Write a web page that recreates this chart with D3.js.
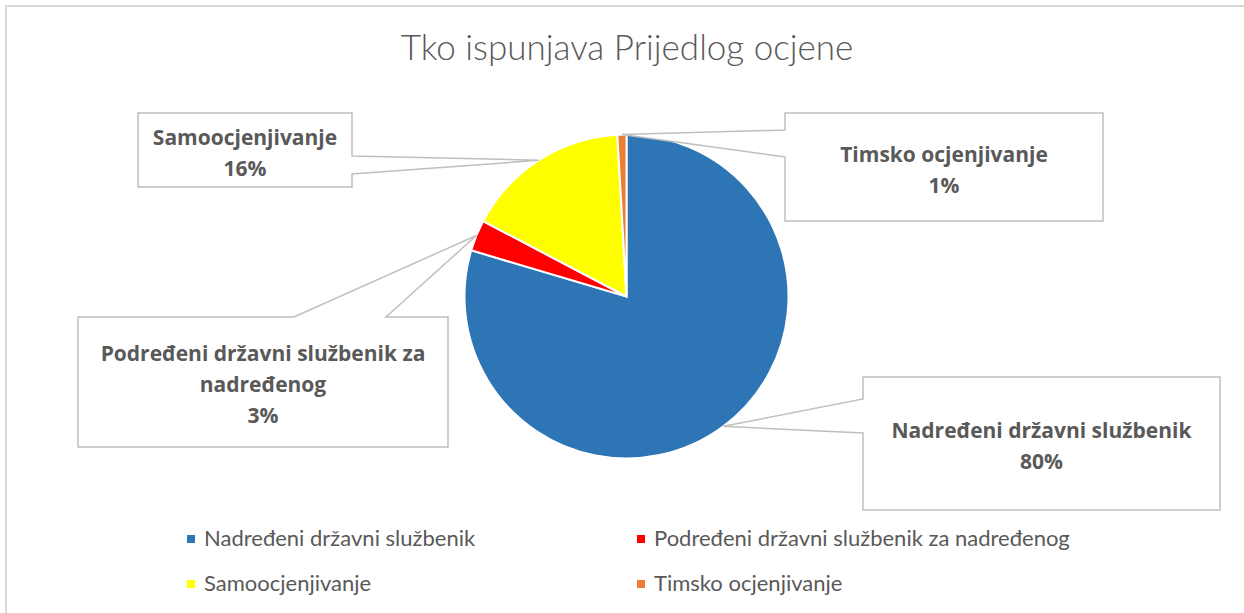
<!DOCTYPE html>
<html>
<head>
<meta charset="utf-8">
<script src="https://cdn.jsdelivr.net/npm/d3@7"></script>
<style>
  body { margin: 0; background: #fff; }
  text { font-family: Lato, "Open Sans", sans-serif; fill: #595959; }
</style>
</head>
<body>
<div id="chart"></div>
<script>
var width = 1244,
    height = 613;

// data
var categories = ["Nadređeni državni službenik", "Podređeni državni službenik za nadređenog", "Samoocjenjivanje", "Timsko ocjenjivanje"];
var shares = [79.6, 3.1, 16.4, 0.9];
var colors = ["#2E75B6", "#FF0000", "#FFFF00", "#ED7D31"];
var title = "Tko ispunjava Prijedlog ocjene";

// callout boxes (layout only), base = where the pointer leaves the box side
var callouts = [
    {x: 863, y: 377, w: 357, h: 133, side: "left",  base: [22, 56]},
    {x: 78,  y: 317, w: 370, h: 130, side: "top",   base: [216, 308]},
    {x: 138, y: 113, w: 214, h: 74,  side: "right", base: [43, 61]},
    {x: 785, y: 113, w: 318, h: 108, side: "left",  base: [17, 44]}
];

var cx = 626.5, cy = 296.5, r = 162;

var svg = d3.select("#chart").append("svg")
    .attr("width", width)
    .attr("height", height);

svg.append("rect")
    .attr("x", 6).attr("y", 6)
    .attr("width", 1260).attr("height", 640)
    .attr("fill", "#fff")
    .attr("stroke", "#d9d9d9")
    .attr("stroke-width", 2);

svg.append("text")
    .attr("x", 627).attr("y", 60)
    .attr("text-anchor", "middle")
    .style("font-size", "35px")
    .style("font-weight", 300)
    .text(title);

var data = categories.map(function(c, i) { return {name: c, value: shares[i], color: colors[i]}; });
var total = d3.sum(shares);

var pie = d3.pie().sort(null).value(function(d) { return d.value; });
var arcs = pie(data);

var arc = d3.arc().innerRadius(0).outerRadius(r);
var edge = d3.arc().innerRadius(r).outerRadius(r);

var g = svg.append("g").attr("transform", "translate(" + cx + "," + cy + ")");

g.selectAll("path")
    .data(arcs)
    .enter().append("path")
    .attr("d", arc)
    .attr("fill", function(d) { return d.data.color; })
    .attr("stroke", "#fff")
    .attr("stroke-width", 2);

function calloutPath(b, tip) {
    var x = b.x, y = b.y, w = b.w, h = b.h, a0 = b.base[0], a1 = b.base[1];
    var pts = [[x, y]];
    if (b.side == "top") pts.push([x + a0, y], tip, [x + a1, y]);
    pts.push([x + w, y]);
    if (b.side == "right") pts.push([x + w, y + a0], tip, [x + w, y + a1]);
    pts.push([x + w, y + h], [x, y + h]);
    if (b.side == "left") pts.push([x, y + a1], tip, [x, y + a0]);
    return "M" + pts.join("L") + "Z";
}

var lineH = 31;

arcs.forEach(function(d, i) {
    var b = callouts[i];
    var c = edge.centroid(d);
    var tip = [cx + c[0], cy + c[1]];

    svg.append("path")
        .attr("d", calloutPath(b, tip))
        .attr("fill", "#fff")
        .attr("stroke", "#bfbfbf")
        .attr("stroke-width", 1.5);

    // wrap the category name to the box width
    var t = svg.append("text")
        .attr("text-anchor", "middle")
        .style("font-family", "'Open Sans', sans-serif")
        .style("font-size", "21px")
        .style("font-weight", "bold");
    var words = d.data.name.split(" "), lines = [], cur = "";
    words.forEach(function(wd) {
        var test = cur ? cur + " " + wd : wd;
        t.text(test);
        if (t.node().getComputedTextLength() > b.w - 16 && cur) {
            lines.push(cur);
            cur = wd;
        } else cur = test;
    });
    lines.push(cur);
    lines.push(Math.round(d.data.value / total * 100) + "%");
    t.text(null);

    var mx = b.x + b.w / 2,
        y0 = b.y + b.h / 2 - (lines.length - 1) * lineH / 2 + 10;
    lines.forEach(function(l, k) {
        t.append("tspan").attr("x", mx).attr("y", y0 + k * lineH).text(l);
    });
});

// legend
var legX = [187, 637], legY = [539, 584];
var leg = svg.selectAll(".leg")
    .data(data)
    .enter().append("g")
    .attr("class", "leg")
    .attr("transform", function(d, i) { return "translate(" + legX[i % 2] + "," + legY[Math.floor(i / 2)] + ")"; });

leg.append("rect")
    .attr("x", 0).attr("y", -4)
    .attr("width", 8).attr("height", 8)
    .attr("fill", function(d) { return d.color; });

leg.append("text")
    .attr("x", 17).attr("y", 7)
    .style("font-size", "22px")
    .text(function(d) { return d.name; });
</script>
</body>
</html>
